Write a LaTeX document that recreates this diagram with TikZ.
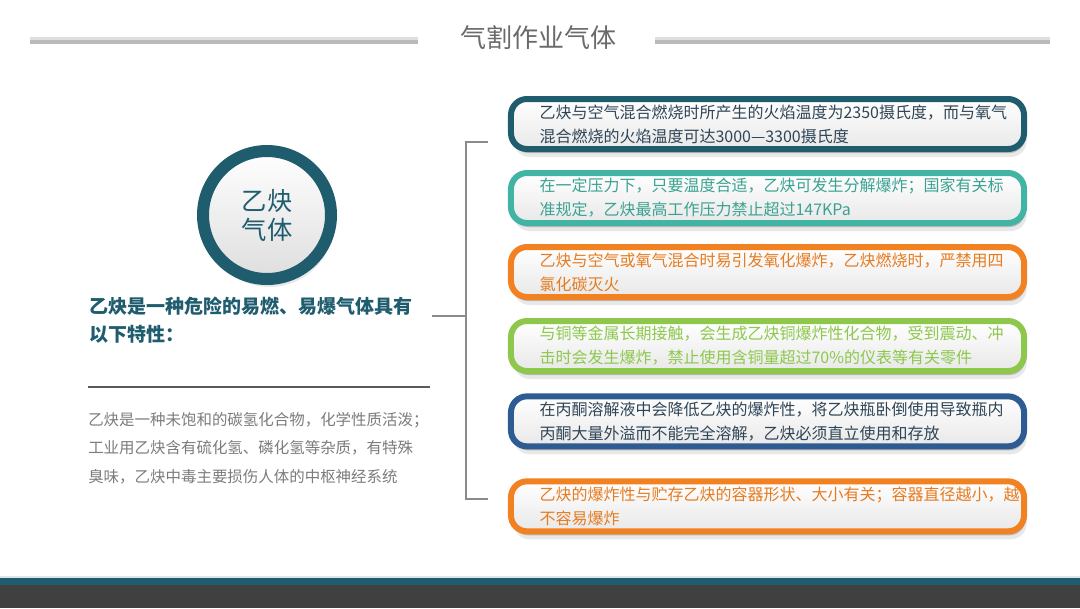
\documentclass[tikz,border=0pt]{standalone}
\usepackage{fontspec}
\setmainfont{Noto Sans CJK SC}
\usetikzlibrary{positioning,shadows}

\definecolor{tealdark}{HTML}{1E5C6E}
\definecolor{tealgreen}{HTML}{42B4A3}
\definecolor{orangebox}{HTML}{F28122}
\definecolor{greenbox}{HTML}{8DC84C}
\definecolor{bluebox}{HTML}{2D5B92}
\definecolor{slatetext}{HTML}{2F4556}
\definecolor{titlegrey}{HTML}{6A6A6A}
\definecolor{textgrey}{HTML}{7C7C7C}
\definecolor{bracketgrey}{HTML}{8A8A8A}
\definecolor{footgrey}{HTML}{404040}

\begin{document}
\begin{tikzpicture}[
    x=0.75pt, y=-0.75pt,
    softshadow/.style={
        drop shadow={shadow xshift=1pt, shadow yshift=-3pt, opacity=.2, fill=black},
        drop shadow={shadow xshift=2pt, shadow yshift=-6pt, opacity=.09, fill=black}
    },
    box/.style={
        draw,
        rounded corners=12pt,
        line width=4.5pt,
        top color=white, bottom color=black!9,
        text width=342pt, inner xsep=21.4pt, inner ysep=2pt,
        minimum height=37.5pt,
        align=left,
        font=\fontsize{12}{18}\selectfont,
        softshadow
    },
    ring/.style={
        circle,
        draw=tealdark,
        line width=9pt,
        minimum size=96pt,
        top color=white, bottom color=black!13,
        align=center,
        text=tealdark,
        font=\fontsize{19}{21.75}\selectfont,
        softshadow
    },
    bracket/.style={draw=bracketgrey, line width=2.2pt},
    node distance=13.5pt
]

\useasboundingbox (0,0) rectangle (1080,608);
\fill[white] (0,0) rectangle (1080,608);

% title
\fill[black!13] (30,37) rectangle (418,40);
\fill[black!27] (30,40) rectangle (418,44);
\fill[black!13] (655,37) rectangle (1050,40);
\fill[black!27] (655,40) rectangle (1050,44);
\node[text=titlegrey, font=\fontsize{19.5}{22}\selectfont] (title) at (538,38) {气割作业气体};

% left side
\node[ring] (gas) at (267,215) {乙炔\\气体};

\node[anchor=west, inner sep=0, align=left, text=tealdark,
      font=\fontsize{14.25}{21}\selectfont\bfseries] (head) at (89,320)
      {乙炔是一种危险的易燃、易爆气体具有\\以下特性：};
\draw[black!65, line width=1.8pt] (88,387) -- (430,387);
\node[anchor=west, inner sep=0, align=left, text=textgrey,
      font=\fontsize{11.6}{21.5}\selectfont] (desc) at (88,448)
      {乙炔是一种未饱和的碳氢化合物，化学性质活泼；\\工业用乙炔含有硫化氢、磷化氢等杂质，有特殊\\臭味，乙炔中毒主要损伤人体的中枢神经系统};

% boxes
\node[box, draw=tealdark, text=slatetext] (b1) at (767.5,124)
      {乙炔与空气混合燃烧时所产生的火焰温度为2350摄氏度，而与氧气\\混合燃烧的火焰温度可达3000—3300摄氏度};
\node[box, draw=tealgreen, text=tealgreen!90!black, below=of b1] (b2)
      {在一定压力下，只要温度合适，乙炔可发生分解爆炸；国家有关标\\准规定，乙炔最高工作压力禁止超过147KPa};
\node[box, draw=orangebox, text=orangebox!95!black, below=of b2] (b3)
      {乙炔与空气或氧气混合时易引发氧化爆炸，乙炔燃烧时，严禁用四\\氯化碳灭火};
\node[box, draw=greenbox, text=greenbox, below=13.5pt of b3] (b4)
      {与铜等金属长期接触，会生成乙炔铜爆炸性化合物，受到震动、冲\\击时会发生爆炸，禁止使用含铜量超过70\%的仪表等有关零件};
\node[box, draw=bluebox, text=slatetext, below=14.5pt of b4] (b5)
      {在丙酮溶解液中会降低乙炔的爆炸性，将乙炔瓶卧倒使用导致瓶内\\丙酮大量外溢而不能完全溶解，乙炔必须直立使用和存放};
\node[box, draw=orangebox, text=orangebox!95!black, below=21.75pt of b5] (b6)
      {乙炔的爆炸性与贮存乙炔的容器形状、大小有关；容器直径越小，越\\不容易爆炸};

% bracket
\coordinate (brtop) at (488,142);
\coordinate (brbot) at (488,499);
\coordinate (brmid) at (432,316);
\coordinate (brx) at (466,316);
\draw[bracket] (brtop) -- (brtop -| brx) -- (brbot -| brx) -- (brbot);
\draw[bracket] (brmid) -- (brx);

% footer
\fill[tealdark!15] (0,576) rectangle (1080,578);
\fill[tealdark] (0,578) rectangle (1080,585);
\fill[footgrey] (0,585) rectangle (1080,608);

\end{tikzpicture}
\end{document}
